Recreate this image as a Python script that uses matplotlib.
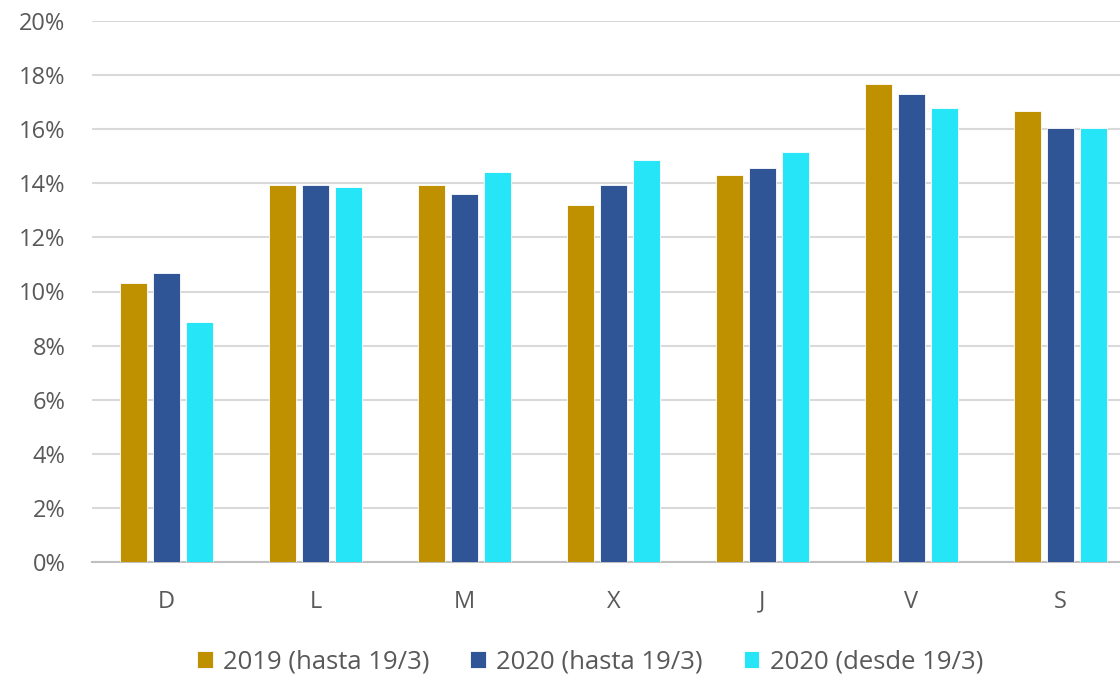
import matplotlib.pyplot as plt
import numpy as np
from matplotlib.ticker import PercentFormatter

# --- Data ---
days = ['D', 'L', 'M', 'X', 'J', 'V', 'S']
series_names = ['2019 (hasta 19/3)', '2020 (hasta 19/3)', '2020 (desde 19/3)']
vals_2019 = [10.3, 13.95, 13.95, 13.2, 14.3, 17.68, 16.67]
vals_2020_before = [10.67, 13.95, 13.6, 13.95, 14.58, 17.31, 16.04]
vals_2020_after = [8.86, 13.87, 14.4, 14.85, 15.15, 16.77, 16.04]
colors = ['#BF9000', '#2F5597', '#26E5F7']

plt.rcParams['font.family'] = ['Open Sans', 'DejaVu Sans']

fig = plt.figure(figsize=(11.2, 6.8), dpi=100)
# plot area runs slightly past the right edge, like the source
ax = fig.add_axes([92 / 1120, 1 - 562 / 680, 1043 / 1120, 541 / 680])

x = np.arange(len(days))
width = 0.18
offsets = [-0.22, 0.0, 0.22]
for vals, off, col, name in zip([vals_2019, vals_2020_before, vals_2020_after],
                                offsets, colors, series_names):
    ax.bar(x + off, vals, width, color=col, label=name,
           edgecolor='white', linewidth=0.6, zorder=3)

ax.set_xlim(-0.5, len(days) - 0.5)
ax.set_ylim(0, 20)
ax.set_yticks(np.arange(0, 21, 2))
ax.yaxis.set_major_formatter(PercentFormatter(decimals=0))
ax.set_xticks(x)
ax.set_xticklabels(days)

ax.grid(axis='y', color='#D9D9D9', linewidth=1.5, zorder=0)
for s in ['top', 'right', 'left']:
    ax.spines[s].set_visible(False)
ax.spines['bottom'].set_color('#BFBFBF')
ax.spines['bottom'].set_linewidth(1.5)
ax.tick_params(axis='both', length=0, labelsize=17, colors='#595959')
ax.tick_params(axis='y', pad=19)
ax.tick_params(axis='x', pad=20)

leg = fig.legend(loc='center', bbox_to_anchor=(590 / 1120, 1 - 662 / 680), ncol=3,
                 frameon=False, fontsize=18.5, handlelength=0.6, handleheight=0.6,
                 handletextpad=0.4, columnspacing=1.6)
for t in leg.get_texts():
    t.set_color('#595959')

fig.savefig('out.png', dpi=100)
